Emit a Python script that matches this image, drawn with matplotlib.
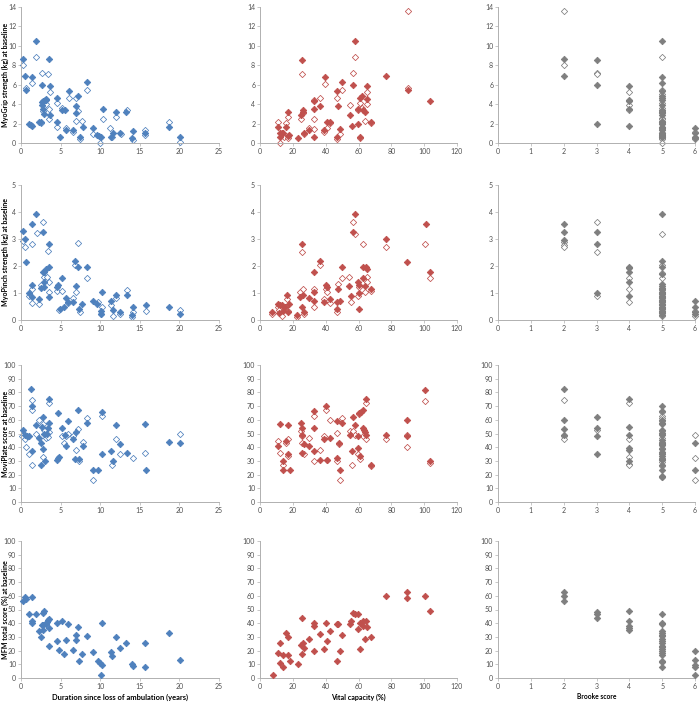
import matplotlib
matplotlib.use('Agg')
import matplotlib.pyplot as plt
import numpy as np

plt.rcParams['font.family'] = ['Lato', 'DejaVu Sans']

# Data
# ----------------------------------------------------------------------------------------------
# Row 1: MyoGrip strength (kg)
grip_dur_x = [0.2, 0.55, 0.67, 1.0, 1.2, 1.4, 1.4, 1.9, 2.3, 2.5, 2.7, 2.6, 2.8, 3.0, 2.65, 2.8, 2.9, 3.15, 3.2,
              3.5, 3.6, 3.6, 4.6, 4.55, 4.9, 5.2, 5.5, 5.7, 6.0, 6.6, 6.9, 6.9, 7.2, 7.4, 7.8, 8.3, 9.05, 9.6,
              9.9, 10.05, 10.3, 11.4, 11.6, 12.0, 12.55, 13.3, 14.0, 14.2, 15.7, 18.7, 20.1]
grip_dur_y = [8.65, 6.9, 5.5, 2.0, 1.9, 1.8, 6.8, 10.5, 2.2, 2.15, 6.0, 4.2, 4.3, 4.4, 3.9, 3.5, 2.95, 4.4, 4.5,
              8.6, 5.9, 2.9, 4.65, 2.2, 0.6, 3.4, 3.4, 1.35, 5.35, 1.35, 3.8, 3.1, 4.85, 0.6, 1.6, 6.25, 1.5, 0.8,
              0.7, 0.6, 3.45, 0.6, 1.05, 3.2, 1.05, 3.15, 0.55, 1.2, 1.05, 1.65, 0.6]
grip_dur_xo = [0.2, 0.67, 1.4, 1.9, 2.5, 2.7, 3.45, 3.6, 2.85, 2.8, 3.2, 3.55, 3.55, 4.6, 4.5, 5.2, 5.7, 6.0,
               6.55, 6.9, 6.9, 7.25, 7.4, 7.75, 8.3, 9.05, 10.0, 10.3, 11.3, 11.55, 12.0, 12.6, 13.35, 14.2,
               15.7, 15.7, 18.7, 20.1]
grip_dur_yo = [8.05, 5.65, 6.15, 8.9, 2.05, 7.25, 7.1, 5.25, 4.2, 3.25, 4.0, 3.45, 2.5, 4.15, 1.6, 3.65, 1.55,
               4.6, 1.1, 4.65, 2.3, 3.25, 0.4, 2.25, 5.5, 0.95, 0.05, 2.45, 1.5, 0.6, 2.65, 0.95, 3.35, 0.35,
               1.35, 0.85, 2.15, 0.1]

grip_vc_x = [11.1, 12.0, 12.2, 13.4, 14.2, 15.8, 16.8, 17.0, 17.8, 22.9, 24.9, 25.7, 26.0, 26.1, 27.0, 29.6,
             32.8, 32.8, 32.8, 36.5, 38.9, 39.7, 40.9, 42.6, 46.8, 46.8, 47.8, 48.9, 49.9, 54.7, 55.9, 56.7,
             57.8, 59.8, 59.8, 60.8, 60.8, 62.4, 62.8, 63.8, 64.9, 64.9, 67.9, 76.8, 90.0, 103.6]
grip_vc_y = [1.6, 1.07, 0.6, 1.07, 1.0, 1.65, 3.2, 0.7, 0.8, 0.47, 2.9, 8.55, 3.4, 3.15, 1.07, 1.34, 4.3, 3.5,
             0.57, 3.83, 1.34, 6.8, 2.18, 2.18, 0.64, 5.34, 3.86, 1.48, 6.25, 2.92, 1.8, 5.98, 10.47, 3.5, 1.98,
             0.64, 4.6, 4.8, 3.4, 3.15, 5.84, 4.5, 2.15, 6.88, 5.47, 4.3]
grip_vc_xo = [11.1, 12.0, 13.4, 14.6, 15.8, 16.8, 17.0, 24.9, 25.7, 26.0, 27.0, 29.6, 32.8, 32.8, 32.8, 36.5,
              38.9, 39.7, 40.9, 42.6, 46.8, 46.8, 48.9, 49.9, 54.7, 56.7, 57.8, 59.8, 60.8, 60.8, 62.4, 63.8,
              64.9, 64.9, 67.9, 90.0, 90.0]
grip_vc_yo = [2.18, 0.0, 1.0, 0.6, 2.1, 2.65, 0.53, 2.48, 7.1, 3.1, 0.95, 1.5, 4.43, 2.42, 1.44, 4.63, 1.14,
              6.1, 1.54, 2.05, 0.4, 4.6, 0.9, 5.5, 3.93, 7.25, 8.9, 3.42, 4.13, 0.54, 3.63, 2.28, 5.24, 4.0,
              2.1, 5.64, 13.6]

grip_br_x = [2, 2, 3, 3, 3, 4, 4, 4, 4, 4] + [5] * 24 + [6, 6, 6, 6]
grip_br_y = [8.66, 6.88, 8.56, 5.98, 2.0, 5.9, 4.46, 4.3, 3.49, 1.78,
             10.47, 6.78, 6.2, 5.37, 4.83, 4.6, 4.4, 3.9, 3.4, 3.2, 3.05, 2.9, 2.2, 2.15, 1.98, 1.65, 1.5,
             1.35, 1.07, 1.0, 0.8, 0.7, 0.6, 0.57, 1.5, 1.07, 0.64, 0.5]
grip_br_xo = [2, 2, 3, 3, 4, 4, 4] + [5] * 18 + [6, 6]
grip_br_yo = [13.6, 8.06, 7.2, 7.1, 5.27, 3.96, 3.36,
              8.9, 5.5, 5.0, 4.6, 4.15, 3.6, 3.3, 2.6, 2.45, 2.3, 2.1, 1.55, 1.45, 1.0, 0.9, 0.55, 0.4, 0.05,
              1.1, 0.37]

# Row 2: MyoPinch strength (kg)
pinch_dur_x = [0.2, 0.55, 0.67, 1.05, 1.35, 1.43, 1.43, 1.94, 2.27, 2.57, 2.74, 2.78, 2.86, 2.95, 2.95, 3.16,
               3.5, 3.58, 3.58, 4.6, 4.7, 4.88, 5.18, 5.47, 5.72, 5.98, 6.6, 6.86, 6.95, 7.24, 7.37, 7.74, 8.33,
               9.05, 9.64, 10.06, 10.1, 10.27, 11.36, 11.57, 12.0, 12.54, 13.34, 13.97, 14.18, 15.74, 18.73,
               20.08]
pinch_dur_y = [3.28, 3.0, 2.15, 1.0, 3.57, 1.3, 0.87, 3.94, 0.78, 1.17, 1.79, 3.27, 1.24, 1.77, 1.41, 1.9,
               2.83, 1.97, 0.84, 1.24, 1.31, 0.42, 1.55, 0.5, 0.81, 0.66, 0.65, 2.19, 1.27, 1.95, 0.39, 0.6,
               1.97, 0.71, 0.61, 0.32, 0.22, 1.04, 0.7, 0.37, 0.93, 0.28, 0.92, 0.2, 0.5, 0.55, 0.49, 0.22]
pinch_dur_xo = [0.2, 0.55, 1.01, 1.35, 1.43, 1.43, 1.98, 2.27, 2.57, 2.78, 2.95, 3.24, 3.45, 3.58, 3.58,
                4.55, 4.84, 5.18, 5.93, 6.6, 6.86, 6.95, 7.2, 7.45, 8.37, 9.68, 10.27, 10.06, 11.32, 11.62,
                12.04, 12.54, 13.38, 14.0, 14.18, 15.74, 20.08]
pinch_dur_yo = [2.94, 2.7, 0.9, 2.83, 1.14, 0.64, 3.23, 0.59, 1.3, 3.64, 1.58, 1.58, 2.55, 1.4, 1.03, 1.07,
                0.38, 1.07, 0.64, 0.8, 2.05, 1.03, 2.84, 0.31, 1.55, 0.65, 0.5, 0.22, 0.57, 0.16, 0.8, 0.22,
                1.12, 0.11, 0.28, 0.33, 0.37]

pinch_vc_x = [7.5, 10.8, 11.8, 12.2, 13.4, 13.8, 15.0, 16.7, 17.1, 17.9, 22.6, 24.6, 25.6, 26.0, 25.6, 26.6,
              29.7, 32.7, 32.7, 32.7, 36.6, 38.8, 39.9, 40.7, 42.7, 46.8, 47.2, 47.6, 48.8, 49.8, 54.5, 55.7,
              56.5, 57.6, 59.6, 60.0, 60.4, 60.6, 62.6, 62.6, 63.7, 64.7, 64.9, 67.7, 76.7, 89.7, 100.9, 103.7]
pinch_vc_y = [0.29, 0.6, 0.25, 0.54, 0.56, 0.34, 0.47, 0.94, 0.29, 0.61, 0.19, 0.85, 2.82, 0.91, 0.49, 0.28,
              0.83, 1.77, 1.03, 0.71, 2.19, 0.66, 1.31, 1.24, 0.77, 0.4, 0.67, 1.16, 0.71, 1.97, 1.26, 0.88,
              3.26, 3.93, 1.39, 1.0, 1.31, 0.41, 1.56, 1.95, 1.27, 1.97, 1.9, 1.14, 2.99, 2.15, 3.56, 1.76]
pinch_vc_xo = [7.5, 10.8, 11.8, 13.6, 16.7, 17.1, 22.6, 24.6, 25.6, 26.0, 26.6, 32.7, 32.7, 36.6, 38.8, 39.9,
               40.7, 42.7, 46.8, 47.6, 49.8, 54.5, 55.7, 56.5, 57.6, 59.6, 60.4, 62.6, 63.7, 64.9, 64.9, 67.7,
               76.7, 100.7, 103.7]
pinch_vc_yo = [0.22, 0.49, 0.37, 0.16, 0.76, 0.34, 0.11, 1.03, 2.53, 1.13, 0.22, 1.15, 0.49, 2.04, 0.79, 1.14,
               1.04, 0.62, 0.29, 1.33, 1.55, 1.59, 0.65, 3.62, 3.2, 0.89, 1.24, 2.82, 1.03, 1.59, 1.41, 1.09,
               2.7, 2.81, 1.56]

pinch_br_x = [2, 2, 2, 3, 3, 3, 4, 4, 4, 4, 4] + [5] * 26 + [6, 6, 6, 6]
pinch_br_y = [3.56, 3.26, 2.97, 3.26, 2.82, 1.0, 1.98, 1.92, 1.76, 1.41, 0.88,
              3.93, 2.19, 1.98, 1.7, 1.33, 1.27, 1.2, 1.15, 1.05, 1.0, 0.95, 0.9, 0.85, 0.8, 0.75, 0.7, 0.65,
              0.6, 0.55, 0.5, 0.45, 0.4, 0.35, 0.3, 0.25, 0.2, 0.7, 0.49, 0.29, 0.22]
pinch_br_xo = [2, 2, 2, 3, 3, 3, 4, 4, 4] + [5] * 12 + [6, 6]
pinch_br_yo = [2.88, 2.78, 2.69, 3.62, 2.53, 0.9, 1.56, 1.16, 0.65,
               3.2, 2.03, 1.74, 1.56, 1.1, 0.9, 0.75, 0.6, 0.45, 0.35, 0.25, 0.13, 0.35, 0.16]

# Row 3: MoviPlate score
plate_dur_x = [0.2, 0.5, 0.76, 1.05, 1.3, 1.43, 1.43, 1.94, 2.23, 2.57, 2.57, 2.69, 2.74, 2.82, 2.9, 2.99,
               3.24, 3.45, 3.54, 3.58, 4.55, 4.67, 4.8, 5.13, 5.51, 5.72, 5.98, 6.57, 6.9, 6.86, 7.2, 7.37,
               7.79, 8.33, 9.05, 9.68, 10.19, 10.27, 11.36, 11.57, 12.04, 12.54, 13.34, 15.7, 15.74, 18.73,
               20.08]
plate_dur_y = [52.8, 48.9, 48.2, 48.2, 82.2, 69.9, 36.9, 56.0, 46.9, 42.8, 26.9, 54.8, 62.1, 38.9, 49.4,
               30.1, 49.4, 53.8, 57.9, 75.1, 30.3, 64.8, 32.5, 53.8, 48.9, 40.8, 58.9, 45.7, 50.9, 31.1, 67.0,
               31.5, 40.8, 57.7, 23.0, 23.0, 34.7, 65.5, 36.9, 29.8, 56.0, 42.1, 35.7, 57.2, 23.0, 44.0, 42.8]
plate_dur_xo = [0.13, 0.55, 0.67, 1.05, 1.35, 1.43, 1.43, 1.94, 2.27, 2.74, 2.82, 2.9, 3.16, 3.45, 3.58, 3.58,
                4.63, 5.13, 5.47, 5.72, 5.98, 6.57, 6.9, 7.2, 7.37, 7.79, 8.33, 9.05, 10.19, 11.53, 12.04,
                12.54, 14.18, 15.7, 20.08]
plate_dur_yo = [47.9, 46.0, 39.9, 35.2, 74.1, 67.2, 26.9, 49.4, 59.7, 57.0, 32.8, 52.3, 46.5, 47.7, 51.1,
                71.9, 32.3, 47.9, 43.0, 48.2, 49.9, 48.2, 37.7, 53.1, 29.8, 44.0, 61.1, 16.1, 63.1, 26.9, 46.0,
                35.0, 31.8, 35.9, 49.4]

plate_vc_x = [10.9, 12.0, 13.8, 13.8, 15.8, 16.8, 17.0, 18.0, 24.7, 25.7, 25.7, 25.7, 27.0, 29.8, 32.8, 32.8,
              32.8, 36.7, 38.7, 40.0, 40.7, 42.8, 46.8, 46.8, 47.9, 48.7, 49.9, 55.0, 56.0, 56.8, 57.8, 59.6,
              59.8, 60.8, 60.6, 61.8, 62.8, 62.8, 63.4, 64.1, 64.7, 64.7, 67.7, 76.6, 89.6, 89.6, 100.7, 103.6]
plate_vc_y = [41.1, 57.0, 30.1, 23.2, 44.2, 34.8, 56.1, 23.2, 58.0, 54.2, 48.9, 36.0, 42.0, 41.1, 66.1, 54.2,
              37.0, 31.0, 46.1, 69.9, 30.5, 47.0, 58.9, 32.2, 43.0, 23.2, 58.0, 48.9, 37.0, 62.1, 56.1, 39.1,
              48.2, 33.4, 64.7, 65.9, 67.1, 54.2, 52.7, 51.1, 49.2, 74.9, 27.2, 49.2, 60.1, 48.2, 82.1, 30.1]
plate_vc_xo = [10.9, 12.0, 13.8, 15.8, 16.8, 17.0, 24.7, 25.7, 25.7, 27.0, 29.8, 32.8, 32.8, 36.7, 38.7, 40.0,
               40.7, 42.8, 46.8, 46.8, 47.9, 48.7, 49.9, 54.7, 56.0, 56.8, 57.8, 59.8, 60.8, 60.6, 62.8, 64.7,
               64.7, 67.7, 76.6, 89.6, 89.6, 100.7, 103.6]
plate_vc_yo = [44.2, 36.0, 27.2, 43.0, 33.9, 46.1, 52.0, 48.0, 43.0, 35.1, 47.0, 63.0, 30.1, 37.9, 48.0, 67.1,
               31.0, 59.9, 50.1, 30.1, 42.0, 16.2, 61.1, 52.0, 27.2, 52.0, 49.2, 35.1, 31.3, 64.2, 48.0, 72.1,
               46.1, 26.0, 46.1, 40.1, 49.2, 74.0, 28.2]

plate_br_x = [2, 2, 2, 2, 3, 3, 3, 3, 4, 4, 4, 4, 4, 4] + [5] * 22 + [6, 6]
plate_br_y = [82.4, 60.2, 53.5, 49.2, 62.4, 54.2, 48.2, 35.2, 75.4, 54.5, 49.2, 39.5, 37.6, 29.9,
              70.4, 66.5, 59.5, 57.8, 56.9, 52.3, 50.6, 48.7, 45.1, 43.4, 42.2, 41.4, 38.8, 36.6, 35.2, 33.5,
              31.3, 30.6, 27.0, 23.1, 19.0, 18.3, 43.1, 23.1]
plate_br_xo = [2, 2, 2, 3, 4, 4, 4, 4, 4] + [5] * 15 + [6, 6, 6]
plate_br_yo = [74.2, 48.2, 46.3, 52.3, 72.0, 46.3, 33.0, 28.0, 27.0,
               65.5, 63.1, 61.2, 58.8, 51.6, 49.6, 47.0, 43.9, 41.4, 39.5, 35.7, 32.3, 29.4, 26.5, 18.6,
               49.2, 32.3, 16.1]

# Row 4: MFM total score (%)
mfm_dur_x = [0.2, 0.55, 0.67, 1.05, 1.35, 1.43, 1.43, 1.94, 2.23, 2.57, 2.61, 2.74, 2.74, 2.78, 2.95, 3.16,
             3.24, 3.37, 3.5, 3.58, 3.5, 4.5, 4.55, 4.8, 5.13, 5.47, 5.68, 5.98, 6.57, 6.9, 6.9, 7.2, 7.37,
             7.74, 8.29, 9.05, 9.68, 9.97, 10.06, 10.19, 10.27, 11.36, 11.53, 12.0, 12.5, 13.3, 13.97, 14.18,
             15.7, 15.7, 18.73, 20.08]
mfm_dur_y = [56.1, 59.0, 57.8, 46.6, 59.0, 41.5, 40.2, 46.6, 34.4, 30.0, 38.8, 47.6, 35.1, 39.0, 48.8, 39.5,
             40.7, 42.2, 43.4, 36.3, 23.7, 40.2, 26.8, 20.7, 41.5, 17.3, 27.8, 39.3, 20.7, 31.7, 27.8, 37.1,
             12.2, 17.8, 31.0, 19.3, 12.2, 11.0, 2.0, 9.5, 40.2, 19.3, 16.3, 30.0, 21.7, 25.6, 10.5, 8.5, 8.0,
             25.6, 32.9, 13.2]

mfm_vc_x = [7.9, 10.9, 12.0, 12.0, 13.8, 14.0, 15.8, 16.8, 17.0, 18.0, 22.9, 24.7, 25.7, 25.7, 26.2, 27.0,
            29.8, 32.8, 32.8, 32.8, 36.7, 38.7, 40.0, 40.7, 42.6, 46.8, 46.8, 47.8, 48.9, 49.9, 54.7, 55.7,
            56.8, 57.8, 59.8, 59.8, 60.8, 60.8, 62.8, 62.8, 63.9, 64.7, 64.9, 67.7, 76.6, 89.8, 89.8, 100.7,
            103.8]
mfm_vc_y = [2.2, 18.0, 25.9, 11.3, 8.2, 16.5, 33.1, 30.2, 16.5, 12.5, 10.3, 24.0, 43.6, 17.5, 25.7, 21.6,
            28.3, 40.5, 38.1, 19.7, 32.1, 20.9, 40.5, 27.1, 34.3, 12.2, 39.3, 39.6, 19.7, 31.2, 39.3, 41.7,
            47.7, 47.0, 47.0, 35.5, 40.5, 21.1, 41.7, 37.6, 28.3, 41.7, 36.9, 30.2, 59.5, 62.6, 58.3, 59.5,
            49.2]

mfm_br_x = [2, 2, 2, 3, 3, 3, 4, 4, 4, 4, 4] + [5] * 19 + [6, 6, 6, 6, 6]
mfm_br_y = [62.6, 59.5, 56.4, 48.0, 46.8, 43.6, 48.9, 41.7, 37.9, 36.7, 35.0,
            46.8, 40.0, 39.6, 34.5, 32.9, 31.7, 30.5, 28.8, 26.9, 25.2, 23.7, 22.3, 20.9, 19.4, 18.0, 16.8,
            12.5, 11.8, 8.2, 19.7, 13.4, 9.8, 7.9, 2.2]

# Axis setup
# ----------------------------------------------------------------------------------------------
blue = '#4F81BD'
red = '#C0504D'
grey = '#7F7F7F'
col_colors = [blue, red, grey]

row_ylabels = ['MyoGrip strength (kg) at baseline', 'MyoPinch strength (kg) at baseline',
               'MoviPlate score at baseline', 'MFM total score (%) at baseline']
row_ylims = [(0, 14, 2), (0, 5, 1), (0, 100, 10), (0, 100, 10)]
col_xlims = [(0, 25, 5), (0, 120, 20), (0, 6, 1)]
col_xlabels = ['Duration since loss of ambulation (years)', 'Vital capacity (%)', 'Brooke score']
col_xlabel_fs = [5.4, 5.1, 4.8]

filled = [[(grip_dur_x, grip_dur_y), (grip_vc_x, grip_vc_y), (grip_br_x, grip_br_y)],
          [(pinch_dur_x, pinch_dur_y), (pinch_vc_x, pinch_vc_y), (pinch_br_x, pinch_br_y)],
          [(plate_dur_x, plate_dur_y), (plate_vc_x, plate_vc_y), (plate_br_x, plate_br_y)],
          [(mfm_dur_x, mfm_dur_y), (mfm_vc_x, mfm_vc_y), (mfm_br_x, mfm_br_y)]]
hollow = [[(grip_dur_xo, grip_dur_yo), (grip_vc_xo, grip_vc_yo), (grip_br_xo, grip_br_yo)],
          [(pinch_dur_xo, pinch_dur_yo), (pinch_vc_xo, pinch_vc_yo), (pinch_br_xo, pinch_br_yo)],
          [(plate_dur_xo, plate_dur_yo), (plate_vc_xo, plate_vc_yo), (plate_br_xo, plate_br_yo)],
          None]

W, H = 700, 702
col_px = [(21, 219), (260, 457), (498, 695)]
row_px = [(7, 143), (185, 320), (365, 502), (541, 678)]

fig = plt.figure(figsize=(W / 100, H / 100), dpi=100)

for r in range(4):
    for c in range(3):
        x0, x1 = col_px[c]
        t, b = row_px[r]
        ax = fig.add_axes([x0 / W, 1 - b / H, (x1 - x0) / W, (b - t) / H])
        col = col_colors[c]
        if hollow[r] is not None:
            hx, hy = hollow[r][c]
            ax.plot(hx, hy, 'D', ms=3.2, mfc='white', mec=col, mew=0.55, linestyle='none',
                    clip_on=False, zorder=2)
        fx, fy = filled[r][c]
        ax.plot(fx, fy, 'D', ms=3.3, mfc=col, mec=col, mew=0.6, linestyle='none',
                clip_on=False, zorder=3)

        xmin, xmax, xstep = col_xlims[c]
        ymin, ymax, ystep = row_ylims[r]
        ax.set_xlim(xmin, xmax)
        ax.set_ylim(ymin, ymax)
        ax.set_xticks(np.arange(xmin, xmax + xstep / 2, xstep))
        ax.set_yticks(np.arange(ymin, ymax + ystep / 2, ystep))
        for s in ['top', 'right']:
            ax.spines[s].set_visible(False)
        for s in ['left', 'bottom']:
            ax.spines[s].set_color('#B0B0B0')
            ax.spines[s].set_linewidth(0.7)
        ax.tick_params(axis='both', direction='out', length=2, width=0.5, color='#B0B0B0',
                       labelsize=5, labelcolor='#505050', pad=1.5)
        ax.patch.set_alpha(0)

        if c == 0:
            ax.set_ylabel(row_ylabels[r], fontsize=5.0, fontweight='bold')
            ax.yaxis.set_label_coords(-0.062, 0.5)
        if r == 3:
            ax.set_xlabel(col_xlabels[c], fontsize=col_xlabel_fs[c], fontweight='bold', labelpad=2.5)

fig.savefig('out.png', dpi=100)
